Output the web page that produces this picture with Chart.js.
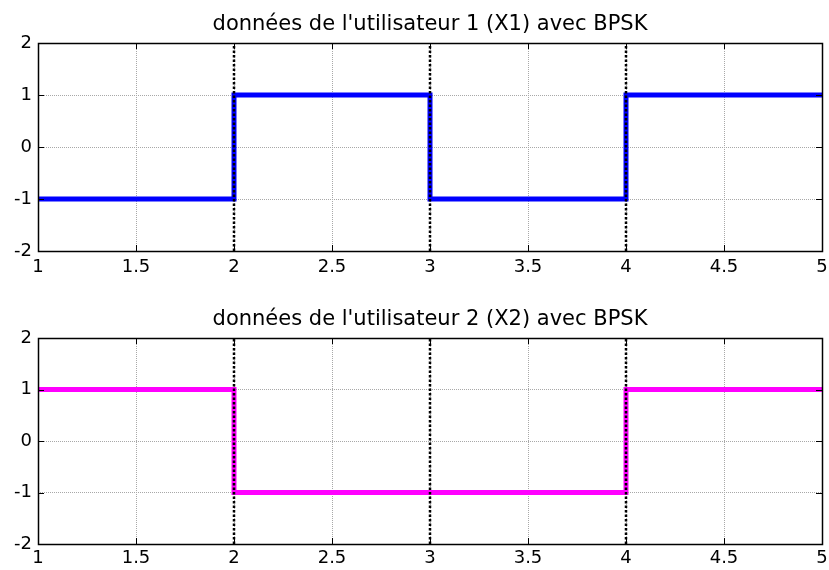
<!DOCTYPE html>
<html lang="fr">
<head>
    <meta charset="UTF-8">
    <title>BPSK - utilisateurs 1 et 2</title>
    <script src="https://cdn.jsdelivr.net/npm/chart.js"></script>
    <style>
        body { margin: 0; background: #fff; }
        .plot { position: absolute; left: 0; width: 829px; }
        #top { top: 0; height: 288px; }
        #bottom { top: 288px; height: 282px; }
    </style>
</head>
<body>
    <div class="plot" id="top"><canvas id="chart1" width="829" height="288"></canvas></div>
    <div class="plot" id="bottom"><canvas id="chart2" width="829" height="282"></canvas></div>

    <script>
        // data
        const xs = [1, 2, 3, 4, 5];
        const user1 = [-1, 1, -1, 1, 1];
        const user2 = [1, -1, -1, 1, 1];
        const bitEdges = [2, 3, 4];
        const xTicks = [1, 1.5, 2, 2.5, 3, 3.5, 4, 4.5, 5];
        const yTicks = [-2, -1, 0, 1, 2];
        const titles = [
            "données de l'utilisateur 1 (X1) avec BPSK",
            "données de l'utilisateur 2 (X2) avec BPSK"
        ];

        const FONT = '"DejaVu Sans", Arial, sans-serif';

        // box around the axes + matlab style inward ticks + title
        const matlabAxes = {
            id: 'matlabAxes',
            afterDraw(chart, args, opts) {
                const ctx = chart.ctx;
                const a = chart.chartArea;
                const sx = chart.scales.x, sy = chart.scales.y;
                ctx.save();
                ctx.strokeStyle = '#000';
                ctx.lineWidth = 1;
                ctx.beginPath();
                xTicks.forEach(t => {
                    const px = Math.round(sx.getPixelForValue(t)) + 0.5;
                    ctx.moveTo(px, a.bottom); ctx.lineTo(px, a.bottom - 6);
                    ctx.moveTo(px, a.top); ctx.lineTo(px, a.top + 6);
                });
                yTicks.forEach(t => {
                    const py = Math.round(sy.getPixelForValue(t)) + 0.5;
                    ctx.moveTo(a.left, py); ctx.lineTo(a.left + 6, py);
                    ctx.moveTo(a.right, py); ctx.lineTo(a.right - 6, py);
                });
                ctx.stroke();
                ctx.lineWidth = 1.5;
                ctx.strokeRect(Math.round(a.left) + 0.5, Math.round(a.top) + 0.5,
                    Math.round(a.right - a.left), Math.round(a.bottom - a.top));
                ctx.fillStyle = '#000';
                ctx.font = '21px ' + FONT;
                ctx.textAlign = 'center';
                ctx.textBaseline = 'alphabetic';
                ctx.fillText(opts.text, (a.left + a.right) / 2, opts.y);
                ctx.restore();
            }
        };

        function makeChart(id, values, color, title, pad) {
            const data = xs.map((x, i) => ({ x: x, y: values[i] }));
            const edgeSets = bitEdges.map(e => ({
                data: [{ x: e, y: -2 }, { x: e, y: 2 }],
                borderColor: '#000',
                borderWidth: 2.5,
                borderDash: [2.5, 2],
                pointRadius: 0,
                order: 0
            }));

            return new Chart(document.getElementById(id), {
                type: 'line',
                data: {
                    datasets: [{
                        data: data,
                        stepped: 'before',
                        borderColor: color,
                        borderWidth: 5,
                        pointRadius: 0,
                        order: 1
                    }].concat(edgeSets)
                },
                options: {
                    responsive: false,
                    animation: false,
                    layout: { padding: { left: 0, right: pad.right, top: pad.top, bottom: 0 } },
                    plugins: {
                        legend: { display: false },
                        tooltip: { enabled: false },
                        matlabAxes: { text: title, y: pad.titleY }
                    },
                    scales: {
                        x: {
                            type: 'linear',
                            min: 1, max: 5,
                            afterBuildTicks: s => { s.ticks = xTicks.map(v => ({ value: v })); },
                            afterFit: s => { s.height = pad.xh; s.paddingRight = 0; },
                            grid: { color: '#a8a8a8', lineWidth: 1, drawTicks: false },
                            border: { display: false, dash: [1, 1] },
                            ticks: {
                                color: '#000', padding: pad.xTickPad, maxRotation: 0,
                                callback: v => String(v),
                                font: { family: FONT, size: 18 }
                            }
                        },
                        y: {
                            type: 'linear',
                            min: -2, max: 2,
                            afterBuildTicks: s => { s.ticks = yTicks.map(v => ({ value: v })); },
                            afterFit: s => { s.width = 38; },
                            grid: { color: '#a8a8a8', lineWidth: 1, drawTicks: false },
                            border: { display: false, dash: [1, 1] },
                            ticks: {
                                color: '#000', padding: 6,
                                callback: v => String(v),
                                font: { family: FONT, size: 18 }
                            }
                        }
                    }
                },
                plugins: [matlabAxes]
            });
        }

        makeChart('chart1', user1, '#0000ff', titles[0], { top: 43, right: 7, xh: 288 - 251, xTickPad: 6, titleY: 30 });
        makeChart('chart2', user2, '#ff00ff', titles[1], { top: 50, right: 7, xh: 282 - 256, xTickPad: 4, titleY: 37 });
    </script>
</body>
</html>
